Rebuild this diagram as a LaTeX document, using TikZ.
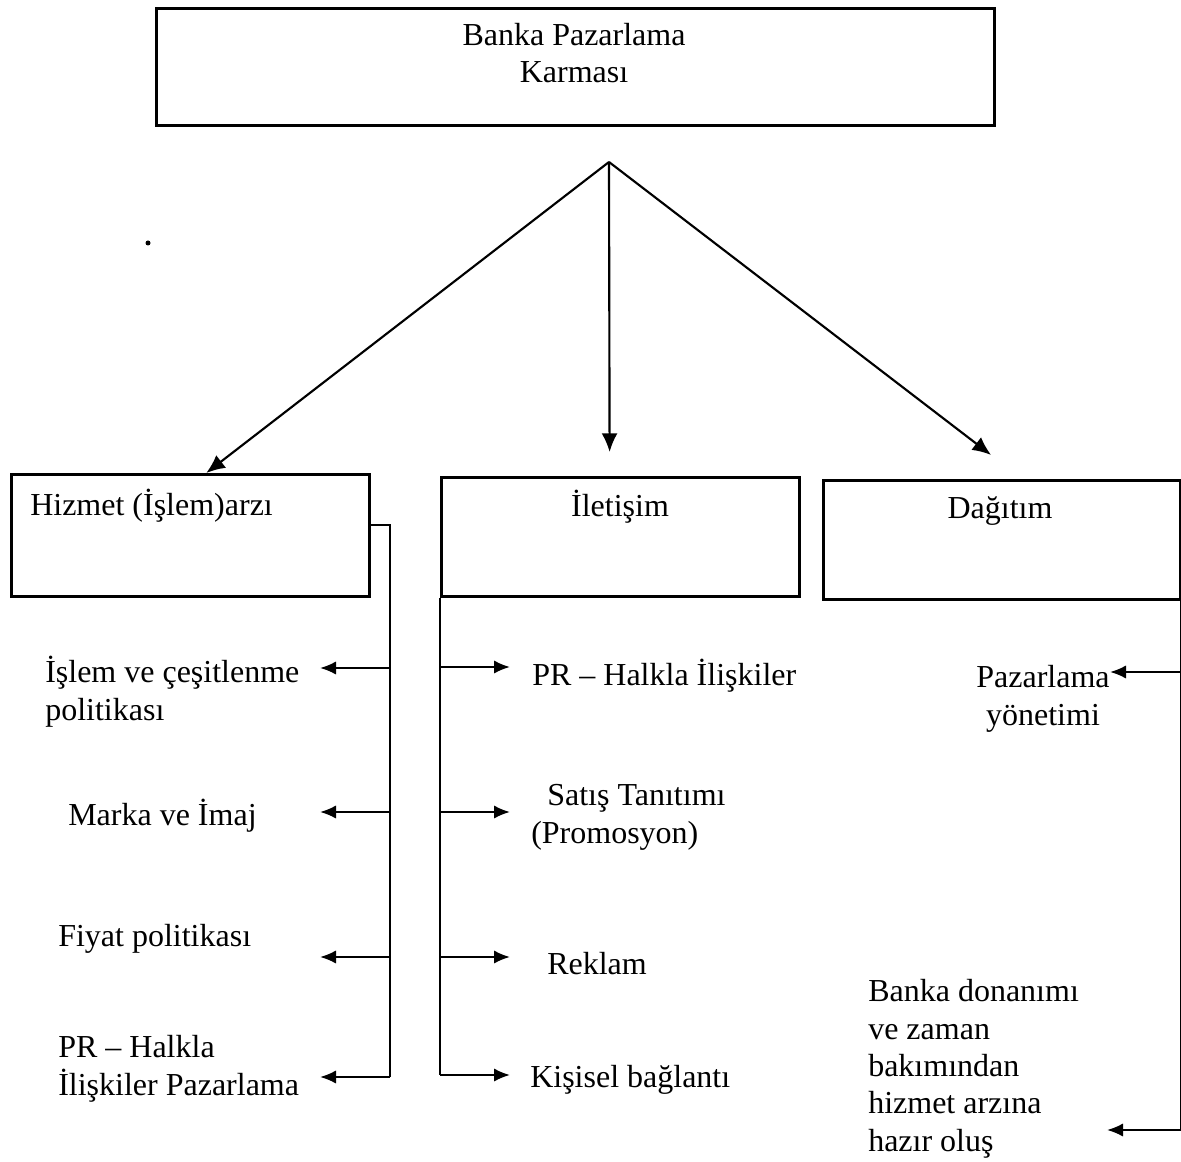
\documentclass[tikz,border=0pt]{standalone}
\usepackage{fontspec}
\setmainfont{Liberation Serif}
\usetikzlibrary{arrows.meta,calc}
\begin{document}
\begin{tikzpicture}[x=0.75pt,y=-0.75pt,
  box/.style={draw,line width=1.9pt,inner sep=0pt,anchor=north west},
  lbl/.style={inner sep=0pt,font=\fontsize{24}{28}\selectfont},
  conn/.style={line width=1.6pt},
  arr/.style={conn,-{Latex[length=12pt,width=10pt]}},
  bigarr/.style={conn,-{Latex[length=14pt,width=12pt]}}]
\useasboundingbox (0,0) rectangle (1181,1162);

% main box and its three branches (multi-line labels sit on their last baseline)
\node[box,minimum width=628.5pt,minimum height=87.75pt] (top) at (155,7) {};
\node[lbl,anchor=base,align=center] (topt) at (574,83) {Banka Pazarlama\\Karması};

\node[box,minimum width=268.5pt,minimum height=91.5pt] (hiz) at (10,473) {};
\node[lbl,anchor=base west] (hizt) at (30,515) {Hizmet (İşlem)arzı};

\node[box,minimum width=268.5pt,minimum height=89.25pt] (ilet) at (440,476) {};
\node[lbl,anchor=base] (iletit) at (620,516) {İletişim};

\node[box,minimum width=267.75pt,minimum height=89.25pt] (dag) at (822,479) {};
\node[lbl,anchor=base] (dagt) at (1000,518) {Dağıtım};

% apex of the three arrows below the main box
\coordinate (apex) at (609,162);
\draw[bigarr] (apex) -- ([xshift=12pt]hiz.north);
\draw[bigarr] (apex) -- ([xshift=-8pt,yshift=18pt]ilet.north);
\draw[bigarr] (apex) -- ([xshift=-8pt,yshift=18pt]dag.north);

% stray speck
\fill (148,243) circle[radius=2.5];

% left column items
\node[lbl,anchor=base west,align=left] (l1) at (45,720) {İşlem ve çeşitlenme\\politikası};
\node[lbl,anchor=base west] (l2) at (68,825) {Marka ve İmaj};
\node[lbl,anchor=base west] (l3) at (58,946) {Fiyat politikası};
\node[lbl,anchor=base west,align=left] (l4) at (58,1095) {PR -- Halkla\\İlişkiler Pazarlama};

\coordinate (spL) at (390,0);
\coordinate (t1) at (320,668);
\coordinate (t2) at (320,812);
\coordinate (t3) at (320,957);
\coordinate (t4) at (320,1077);
\draw[conn] ([yshift=7.5pt]hiz.east) -| (spL |- t4);
\foreach \t in {t1,t2,t3,t4} \draw[arr] (spL |- \t) -- (\t);

% middle column items
\node[lbl,anchor=base west] (m1t) at (532,685) {PR -- Halkla İlişkiler};
\node[lbl,anchor=base west,align=left] (m2t) at (531,843) {\hspace{12pt}Satış Tanıtımı\\(Promosyon)};
\node[lbl,anchor=base west] (m3t) at (547,974) {Reklam};
\node[lbl,anchor=base west] (m4t) at (530,1087) {Kişisel bağlantı};

\coordinate (m1) at (510,667);
\coordinate (m2) at (510,812);
\coordinate (m3) at (510,957);
\coordinate (m4) at (510,1075);
\draw[conn] (ilet.south west) -- (ilet.south west |- m4);
\foreach \t in {m1,m2,m3,m4} \draw[arr] (ilet.south west |- \t) -- (\t);

% right column items
\node[lbl,anchor=base,align=center] (r1t) at (1043,725) {Pazarlama\\yönetimi};
\node[lbl,anchor=base west,align=left] (r2t) at (868,1151) {Banka donanımı\\ve zaman\\bakımından\\hizmet arzına\\hazır oluş};

\coordinate (r1) at (1110,672);
\coordinate (r2) at (1107,1130);
\draw[conn] (dag.south east) -- (dag.south east |- r2);
\foreach \t in {r1,r2} \draw[arr] (dag.south east |- \t) -- (\t);
\end{tikzpicture}
\end{document}
